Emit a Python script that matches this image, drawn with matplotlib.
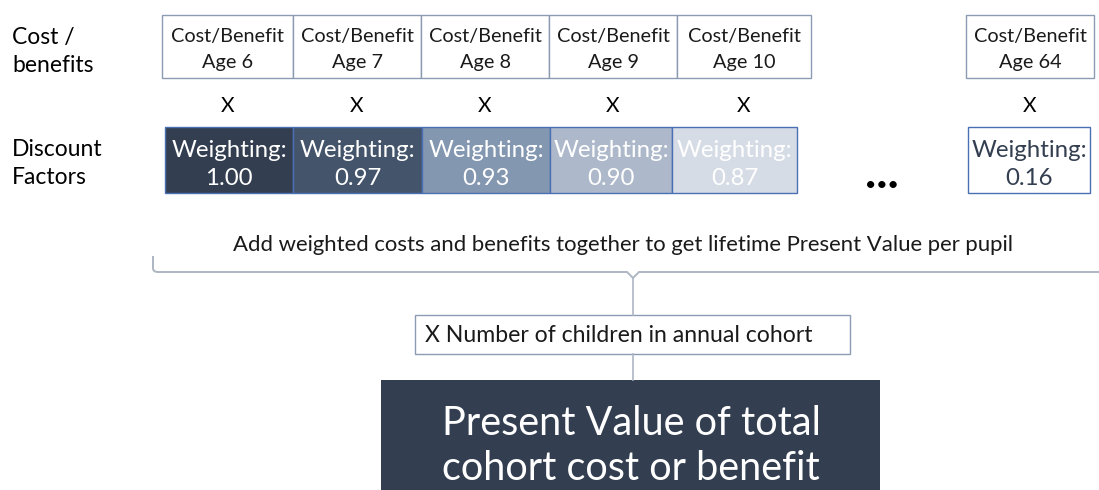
import matplotlib
matplotlib.use("Agg")
import matplotlib.pyplot as plt
from matplotlib.patches import Rectangle, PathPatch
from matplotlib.path import Path

# ---- data ----
ages = [6, 7, 8, 9, 10, 64]
weights = [1.00, 0.97, 0.93, 0.90, 0.87, 0.16]
fill_colors = ["#333F50", "#44546A", "#8497B0", "#ADB9CA", "#D6DCE5", "#FFFFFF"]
text_colors = ["#FFFFFF", "#FFFFFF", "#FFFFFF", "#FFFFFF", "#FFFFFF", "#333F50"]
row_labels = [["Cost /", "benefits"], ["Discount", "Factors"]]
sum_text = "Add weighted costs and benefits together to get lifetime Present Value per pupil"
cohort_text = "X Number of children in annual cohort"
result_lines = ["Present Value of total", "cohort cost or benefit"]

# ---- layout (pixels) ----
W, H = 1099, 490
top_x = [162, 293, 421, 549, 677, 966]
top_w = [131, 128, 128, 128, 134, 128]
wt_x = [165, 293, 422, 550, 672, 968]
wt_w = [128, 129, 128, 122, 125, 122]

FONT = "Lato"
plt.rcParams["font.family"] = [FONT, "DejaVu Sans"]

fig = plt.figure(figsize=(W / 100, H / 100), dpi=100)
ax = fig.add_axes([0, 0, 1, 1])
ax.set_xlim(0, W)
ax.set_ylim(H, 0)
ax.axis("off")

# left labels
for (l1, l2), (b1, b2) in zip(row_labels, [(44, 72), (156, 184)]):
    ax.text(12, b1, l1, ha="left", va="baseline", fontsize=16.5, color="#000000")
    ax.text(12, b2, l2, ha="left", va="baseline", fontsize=16.5, color="#000000")

# top boxes, X marks, weighting boxes
for i, age in enumerate(ages):
    x, w = top_x[i], top_w[i]
    ax.add_patch(Rectangle((x, 15), w, 63, facecolor="white", edgecolor="#8C9BB4", lw=1.0))
    ax.text(x + w / 2, 42, "Cost/Benefit", ha="center", va="baseline",
            fontsize=14.3, color="#1a1a1a")
    ax.text(x + w / 2, 68, f"Age {age}", ha="center", va="baseline",
            fontsize=14.3, color="#1a1a1a")
    ax.text(x + w / 2, 112, "X", ha="center", va="baseline", fontsize=15, color="#000000")
    xw, ww = wt_x[i], wt_w[i]
    ax.add_patch(Rectangle((xw, 127), ww, 66, facecolor=fill_colors[i], edgecolor="#4A6FB5", lw=1.0))
    ax.text(xw + ww / 2, 157, "Weighting:", ha="center", va="baseline",
            fontsize=17.3, color=text_colors[i])
    ax.text(xw + ww / 2, 185, f"{weights[i]:.2f}", ha="center", va="baseline",
            fontsize=17.3, color=text_colors[i])

# ellipsis
ax.text(882, 185, "\u2022\u2022\u2022", ha="center", va="center", fontsize=14, color="#000000")

# summation text
ax.text(623, 245, sum_text, ha="center", va="center", fontsize=15.9, color="#1a1a1a")

# brace
verts = [(153, 256), (153, 268), (153, 272), (158, 272), (627, 272), (633, 278),
         (639, 272), (1099, 272)]
codes = [Path.MOVETO, Path.LINETO, Path.CURVE3, Path.CURVE3, Path.LINETO, Path.LINETO,
         Path.LINETO, Path.LINETO]
ax.add_patch(PathPatch(Path(verts, codes), facecolor="none", edgecolor="#AEB6C3", lw=1.4))
ax.plot([633, 633], [278, 315], color="#AEB6C3", lw=1.2)

# cohort box
ax.add_patch(Rectangle((415, 315), 435, 39, facecolor="white", edgecolor="#8C9BB4", lw=1.0))
ax.text(425, 335, cohort_text, ha="left", va="center", fontsize=16.6, color="#1a1a1a")
ax.plot([633, 633], [354, 380], color="#AEB6C3", lw=1.2)

# result box
ax.add_patch(Rectangle((381, 380), 499, 115, facecolor="#333F50", edgecolor="none"))
ax.text(631, 435, result_lines[0], ha="center", va="baseline", fontsize=28.5, color="#FFFFFF")
ax.text(631, 480, result_lines[1], ha="center", va="baseline", fontsize=28.5, color="#FFFFFF")

fig.savefig("out.png", dpi=100)
